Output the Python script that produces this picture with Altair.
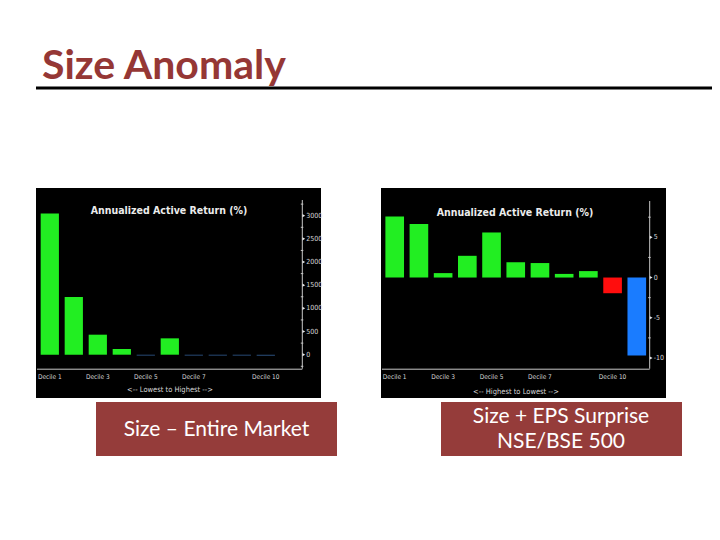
import altair as alt
import pandas as pd

# ---------------- data ----------------
# Left panel: Size - Entire Market (deciles, lowest to highest size)
left_deciles = list(range(1, 11))
left_values = [3050, 1245, 432, 123, -20, 353, -20, -20, -20, -20]
left_ticks = [0, 500, 1000, 1500, 2000, 2500, 3000]
left_tick_labels = ["0", "500", "1000", "1500", "2000", "2500", "3000"]
left_minor = [-250, 250, 750, 1250, 1750, 2250, 2750, 3250]
left_label_deciles = [1, 3, 5, 7, 10]
left_labels = ["Decile 1", "Decile 3", "Decile 5", "Decile 7", "Decile 10"]

# Right panel: Size + EPS Surprise NSE/BSE 500 (highest to lowest)
right_deciles = list(range(1, 12))
right_values = [7.6, 6.65, 0.55, 2.7, 5.6, 1.9, 1.8, 0.45, 0.8, -1.95, -9.7]
right_ticks = [5, 0, -5, -10]
right_tick_labels = ["5", "0", "-5", "-10"]
right_minor = [7.5, 2.5, -2.5, -7.5]
right_label_deciles = [1, 3, 5, 7, 10]
right_labels = ["Decile 1", "Decile 3", "Decile 5", "Decile 7", "Decile 10"]

chart_title = "Annualized Active Return (%)"
left_axis_title = "<-- Lowest to Highest -->"
right_axis_title = "<-- Highest to Lowest -->"
slide_title = "Size Anomaly"
caption_left = "Size \u2013 Entire Market"
caption_right = ["Size + EPS Surprise", "NSE/BSE 500"]

# ---------------- styles ----------------
NARROW = "Liberation Sans Narrow, DejaVu Sans Condensed, Arial Narrow, sans-serif"
SLIDE_FONT = "Lato, Open Sans, sans-serif"
MAROON = "#953735"
BOX = "#953c3a"
AXIS_C = "#c8c8c8"
LABEL_C = "#d6d6d6"

one = pd.DataFrame({"a": [0]})


def deco_rect(x0, x1, y0, y1, fill):
    return alt.Chart(one).mark_rect(fill=fill).encode(
        x=alt.value(x0), x2=alt.value(x1), y=alt.value(y0), y2=alt.value(y1))


def deco_text(txt, x, y, **kw):
    return alt.Chart(one).mark_text(text=txt, **kw).encode(x=alt.value(x), y=alt.value(y))


def deco_rule(x0, x1, y0, y1, color, w):
    return alt.Chart(one).mark_rule(color=color, strokeWidth=w).encode(
        x=alt.value(x0), x2=alt.value(x1), y=alt.value(y0), y2=alt.value(y1))


def panel(deciles, values, cat_expr, cat_dom, cat_rng, xrange, pad,
          ydom, yrange, ticks, tick_labels, minor, lab_dec, labs,
          axis_x, axis_top, axis_bottom, box_left, title_x, title_y,
          sub_title, sub_x, sub_y):
    xs = alt.Scale(domain=deciles, range=xrange, paddingInner=pad, paddingOuter=pad / 2)
    ys = alt.Scale(domain=ydom, range=yrange, zero=False, nice=False)
    bars_df = pd.DataFrame({"d": deciles, "v": values})
    bars = alt.Chart(bars_df).transform_calculate(cat=cat_expr).mark_bar().encode(
        x=alt.X("d:O", scale=xs, axis=None),
        y=alt.Y("v:Q", scale=ys, axis=None, stack=None),
        color=alt.Color("cat:N", scale=alt.Scale(domain=cat_dom, range=cat_rng), legend=None),
    )
    tick_df = pd.DataFrame({"t": ticks, "lab": tick_labels})
    tick_text = alt.Chart(tick_df).mark_text(
        align="left", baseline="middle", font=NARROW, fontSize=7, color=LABEL_C
    ).encode(x=alt.value(axis_x + 4), y=alt.Y("t:Q", scale=ys, axis=None), text="lab:N")
    tick_tri = alt.Chart(tick_df).mark_point(
        shape="triangle-right", filled=True, color="#e8e8e8", size=10, opacity=1
    ).encode(x=alt.value(axis_x + 1.5), y=alt.Y("t:Q", scale=ys, axis=None))
    minor_df = pd.DataFrame({"m": minor})
    minor_ticks = alt.Chart(minor_df).mark_rule(color=AXIS_C, strokeWidth=1).encode(
        x=alt.value(axis_x - 1.5), x2=alt.value(axis_x + 1),
        y=alt.Y("m:Q", scale=ys, axis=None))
    xlab_df = pd.DataFrame({"d": lab_dec, "lab": labs})
    xlabs = alt.Chart(xlab_df).mark_text(
        align="center", baseline="middle", font=NARROW, fontSize=6.5, color=LABEL_C
    ).encode(x=alt.X("d:O", scale=xs, axis=None), y=alt.value(368.5), text="lab:N")
    yline = deco_rule(axis_x, axis_x, axis_top, axis_bottom, AXIS_C, 1)
    xline = deco_rule(box_left, axis_x, axis_bottom + 0.5, axis_bottom + 0.5, AXIS_C, 1)
    title = deco_text(chart_title, title_x, title_y, font=NARROW, fontSize=10.5,
                      fontWeight="bold", color="#ececec", align="center", baseline="middle")
    sub = deco_text(sub_title, sub_x, sub_y, font=NARROW, fontSize=7.5, color=LABEL_C,
                    align="center", baseline="middle")
    return alt.layer(bars, minor_ticks, yline, xline, tick_tri, tick_text, xlabs, title, sub)


left = panel(left_deciles, left_values,
             "datum.v > 0 ? 'pos' : 'flat'", ["pos", "flat"], ["#22ee22", "#2b4f7d"],
             [29.8, 269.8], 0.24, [0, 3000], [346.7, 207.7],
             left_ticks, left_tick_labels, left_minor, left_label_deciles, left_labels,
             294.3, 192, 360.7, 29, 161, 203, left_axis_title, 162, 382)

right = panel(right_deciles, right_values,
              "datum.v > 0 ? 'pos' : (datum.v > -5 ? 'neg' : 'deep')",
              ["pos", "neg", "deep"], ["#22ee22", "#ff0d0d", "#1a7cff"],
              [374.6, 640.9], 0.23, [-10, 5], [350, 229.3],
              right_ticks, right_tick_labels, right_minor, right_label_deciles, right_labels,
              641.7, 193, 360.7, 374, 507, 205, right_axis_title, 508, 383.5)

decor = [
    deco_text(slide_title, 34, 71, font=SLIDE_FONT, fontSize=41, fontWeight="bold",
              color=MAROON, align="left", baseline="alphabetic"),
    deco_rule(28, 712, 80, 80, "black", 3),
    deco_rect(28, 313, 180, 390, "black"),
    deco_rect(373, 658, 180, 390, "black"),
    deco_rect(88, 329, 394, 448, BOX),
    deco_rect(433, 674, 394, 448, BOX),
    deco_text(caption_left, 208.5, 422, font=SLIDE_FONT, fontSize=21, color="white",
              align="center", baseline="middle"),
    deco_text(caption_right[0], 553, 409, font=SLIDE_FONT, fontSize=21, color="white",
              align="center", baseline="middle"),
    deco_text(caption_right[1], 553, 434, font=SLIDE_FONT, fontSize=21, color="white",
              align="center", baseline="middle"),
]

chart = alt.layer(*decor, left, right).resolve_scale(
    x="independent", y="independent", color="independent"
).properties(
    width=704, height=524, padding=0,
    autosize=alt.AutoSizeParams(type="none"), background="white"
).configure_view(stroke=None)

chart.save("out.html", embed_options={"renderer": "svg", "actions": False})
